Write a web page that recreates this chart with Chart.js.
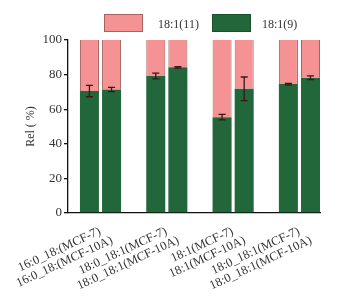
<!DOCTYPE html>
<html><head><meta charset="utf-8">
<script src="https://cdn.jsdelivr.net/npm/chart.js@4/dist/chart.umd.min.js"></script>
<style>html,body{margin:0;padding:0;background:#fff}#wrap{width:344px;height:300px}</style>
</head><body><div id="wrap"><canvas id="c"></canvas></div>
<script>
const categories = ['16:0_18:(MCF-7)','16:0_18:(MCF-10A)','18:0_18:1(MCF-7)','18:0_18:1(MCF-10A)','18:1(MCF-7)','18:1(MCF-10A)','18:0_18:1(MCF-7)','18:0_18:1(MCF-10A)'];
const seriesNames = ['18:1(11)','18:1(9)'];
const rel9 = [70.5, 71.4, 79.2, 84.2, 55.4, 71.8, 74.5, 78.2];
const rel9Err = [3.3, 1.2, 1.7, 0.4, 1.6, 6.8, 0.4, 1.1];
const rel11 = [29.5, 28.6, 20.8, 15.8, 44.6, 28.2, 25.5, 21.8];
const yTicks = [0, 20, 40, 60, 80, 100];

// category slot: two cell lines per group, one empty slot between groups
const slot = categories.map((_, i) => Math.floor(i / 2) * 3 + (i % 2));

const FONT = '"Liberation Serif", "DejaVu Serif", serif';

const errorBars = {
  id: 'errorBars',
  afterDatasetsDraw(chart) {
    const {ctx, scales: {x, y}} = chart;
    ctx.save();
    ctx.strokeStyle = '#3a1616';
    ctx.lineWidth = 1.3;
    rel9.forEach((v, i) => {
      const px = x.getPixelForValue(slot[i]);
      const top = y.getPixelForValue(v + rel9Err[i]);
      const bot = y.getPixelForValue(v - rel9Err[i]);
      ctx.beginPath();
      ctx.moveTo(px, top); ctx.lineTo(px, bot);
      ctx.moveTo(px - 3.5, top); ctx.lineTo(px + 3.5, top);
      ctx.moveTo(px - 3.5, bot); ctx.lineTo(px + 3.5, bot);
      ctx.stroke();
    });
    ctx.restore();
  }
};

const xLabels = {
  id: 'xLabels',
  afterDraw(chart) {
    const {ctx, scales: {x}} = chart;
    const base = chart.chartArea.bottom;
    ctx.save();
    ctx.font = '12.5px ' + FONT;
    ctx.fillStyle = '#333';
    ctx.textAlign = 'right';
    ctx.textBaseline = 'top';
    categories.forEach((lab, i) => {
      const px = x.getPixelForValue(slot[i]);
      const second = i % 2 === 1;
      ctx.save();
      ctx.translate(px + (second ? -2 : 8), base + (second ? 21 : 12));
      ctx.rotate(-25 * Math.PI / 180);
      ctx.fillText(lab, 0, 0);
      ctx.restore();
    });
    ctx.restore();
  }
};

const legendBox = {
  id: 'legendBox',
  afterDraw(chart) {
    const ctx = chart.ctx;
    const items = [
      {text: seriesNames[0], fill: '#f59293', stroke: '#a5625f', bx: 104, tx: 158},
      {text: seriesNames[1], fill: '#21673a', stroke: '#1b4f2c', bx: 212, tx: 262}
    ];
    ctx.save();
    ctx.font = '12px ' + FONT;
    ctx.textAlign = 'left';
    ctx.textBaseline = 'middle';
    items.forEach(it => {
      ctx.fillStyle = it.fill;
      ctx.fillRect(it.bx, 14, 39, 18);
      ctx.strokeStyle = it.stroke;
      ctx.lineWidth = 1;
      ctx.strokeRect(it.bx + 0.5, 14.5, 38, 17);
      ctx.fillStyle = '#333';
      ctx.fillText(it.text, it.tx, 25);
    });
    ctx.restore();
  }
};

new Chart(document.getElementById('c'), {
  type: 'bar',
  data: {
    datasets: [
      {
        label: seriesNames[1],
        data: rel9.map((v, i) => ({x: slot[i], y: v})),
        backgroundColor: '#21673a',
        borderWidth: 0
      },
      {
        label: seriesNames[0],
        data: rel11.map((v, i) => ({x: slot[i], y: v})),
        backgroundColor: '#f59293',
        borderColor: '#a5625f',
        borderWidth: {left: 1, right: 1, top: 0, bottom: 0}
      }
    ]
  },
  options: {
    responsive: true,
    maintainAspectRatio: false,
    animation: false,
    layout: {padding: {left: 0, right: 24, top: 40, bottom: 87}},
    datasets: {bar: {categoryPercentage: 1, barPercentage: 0.86}},
    plugins: {legend: {display: false}, tooltip: {enabled: false}},
    scales: {
      x: {
        type: 'linear',
        stacked: true,
        offset: false,
        min: -0.97,
        max: 10.43,
        afterBuildTicks: s => { s.ticks = slot.map(v => ({value: v})); },
        grid: {display: false, drawTicks: false},
        ticks: {display: false},
        border: {display: true, color: '#111', width: 1.3}
      },
      y: {
        stacked: true,
        min: 0,
        max: 100,
        afterBuildTicks: s => { s.ticks = yTicks.map(v => ({value: v})); },
        ticks: {font: {family: FONT, size: 13}, color: '#333', padding: 2},
        grid: {drawOnChartArea: false, drawTicks: true, tickLength: 4, color: '#111', lineWidth: 1.3},
        border: {color: '#111', width: 1.3},
        title: {display: true, text: 'Rel ( %)', font: {family: FONT, size: 12}, color: '#333', padding: {top: 24, bottom: 0}},
        afterFit: s => { s.width = 68; }
      }
    }
  },
  plugins: [errorBars, xLabels, legendBox]
});
</script>
</body></html>
